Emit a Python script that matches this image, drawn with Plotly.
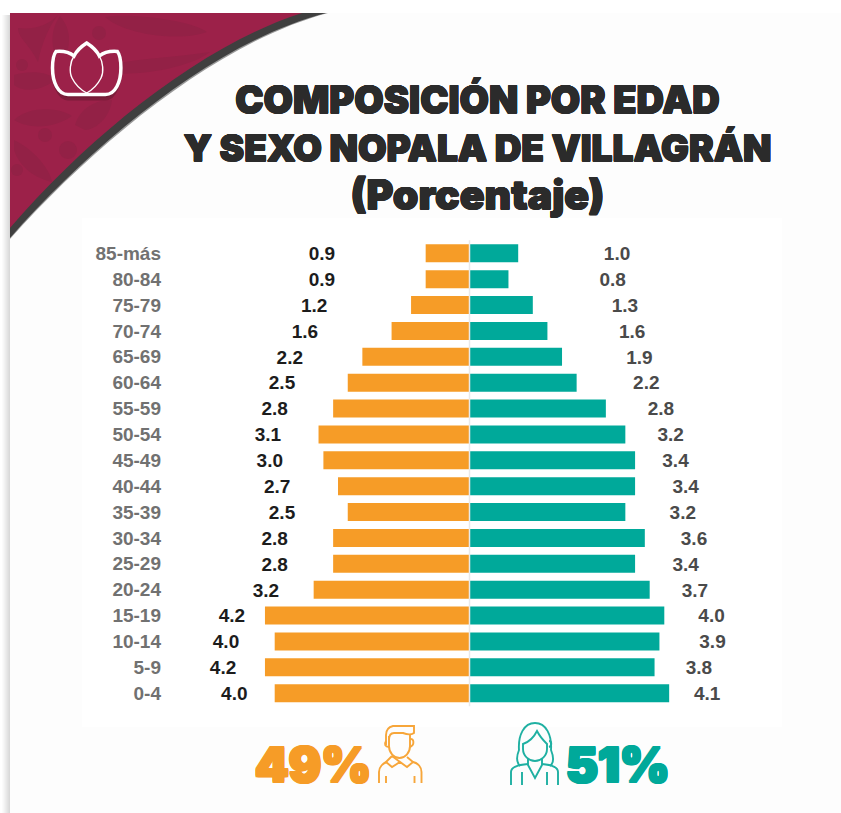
import re
import plotly.graph_objects as go

# ---------- data ----------
age_groups = ["85-más", "80-84", "75-79", "70-74", "65-69", "60-64", "55-59", "50-54", "45-49",
              "40-44", "35-39", "30-34", "25-29", "20-24", "15-19", "10-14", "5-9", "0-4"]
men = [0.9, 0.9, 1.2, 1.6, 2.2, 2.5, 2.8, 3.1, 3.0, 2.7, 2.5, 2.8, 2.8, 3.2, 4.2, 4.0, 4.2, 4.0]
women = [1.0, 0.8, 1.3, 1.6, 1.9, 2.2, 2.8, 3.2, 3.4, 3.4, 3.2, 3.6, 3.4, 3.7, 4.0, 3.9, 3.8, 4.1]
men_total = "49%"
women_total = "51%"
title_text = ("<span style=\"font-size:38px\">COMPOSICIÓN POR EDAD</span><br>Y SEXO NOPALA DE VILLAGRÁN<br>"
              "<span style=\"font-size:41px\">(Porcentaje)</span>")

# ---------- layout helpers ----------
W, H = 841, 813
ORANGE, TEAL, CRIMSON = "#f69c27", "#00a99a", "#9c2149"
# label distance from the end of each bar (hand placed in the original)
men_gap = [2.13, 2.13, 1.99, 1.78, 1.49, 1.35, 1.20, 1.04, 1.10, 1.25, 1.35, 1.20, 1.20, 0.98, 0.68, 1.00, 0.86, 0.83]
women_gap = [2.03, 2.14, 1.89, 1.74, 1.59, 1.43, 1.13, 0.93, 0.83, 1.04, 1.18, 1.01, 1.04, 0.93, 0.97, 1.09, 0.91, 0.78]
LABEL_DROP = 0.08  # labels sit slightly below the row centre
CENTER_PX, UNIT_PX = 469.5, 48.7
X0_PX, X1_PX = 170, 780
Y0_PX, Y1_PX = 240.36, 706.14


def fat(color, r):
    return ", ".join(f"{dx}px {dy}px 0 {color}" for dx, dy in
                     [(r, 0), (-r, 0), (0, r), (0, -r), (r, r), (-r, r), (r, -r), (-r, -r)])


def P(d):
    """pixel path -> paper path"""
    i = [0]
    def sub(m):
        v = float(m.group())
        r = v / W if i[0] % 2 == 0 else 1 - v / H
        i[0] += 1
        return f"{r:.5f}"
    return re.sub(r"\d+\.?\d*", sub, d)


def shape(d, fill=None, line=None, width=0, layer="below"):
    s = dict(type="path", path=P(d), xref="paper", yref="paper", layer=layer,
             line=dict(color=line or "rgba(0,0,0,0)", width=width))
    if fill:
        s["fillcolor"] = fill
    return s


def rect(x0, y0, x1, y1, fill):
    return dict(type="rect", xref="paper", yref="paper", layer="below", x0=x0 / W, x1=x1 / W,
                y0=1 - y0 / H, y1=1 - y1 / H, fillcolor=fill, line=dict(width=0))


shapes = []
# card and left shadow
shapes += [rect(10, 13, W, H, "#fdfdfd"), rect(82, 218, 782, 727, "#ffffff")]
for x, c in zip(range(2, 10), ["#fbfbfb", "#f7f7f7", "#f2f2f2", "#ededed", "#e8e8e8", "#e3e3e3", "#dedede", "#d9d9d9"]):
    shapes.append(rect(x, 15, x + 1, H, c))
# banner
shapes.append(shape("M10 13 L328 13 C 218 42 96 143 10 239 Z", fill="#9a9a9a"))
shapes.append(shape("M10 13 L326 13 C 215 42 95 142 10 238 Z", fill="#3f3f3f"))
shapes.append(shape("M10 13 L302 13 C 202 45 90 135 10 228 Z", fill=CRIMSON))
TEX = "#932146"
for d in [
    "M105 17 C 130 13 190 20 207 32 C 180 42 125 35 105 17 Z",
    "M58 15 C 50 25 42 42 38 62 C 30 45 18 38 18 28 C 35 30 48 25 58 15 Z",
    "M60 16 C 72 30 72 48 60 68 C 50 48 50 30 60 16 Z",
    "M88 70 C 130 58 170 58 210 52 C 190 68 130 80 88 70 Z",
    "M14 120 C 30 105 60 108 72 116 C 55 128 30 130 14 120 Z",
    "M75 125 C 80 108 95 100 112 100 C 110 118 95 130 85 130 Z",
    "M14 140 C 35 150 50 170 52 182 C 35 178 20 168 14 150 Z",
    "M14 75 C 30 70 50 72 55 80 C 40 92 22 92 14 85 Z",
]:
    shapes.append(shape(d, fill=TEX))
for cx, cy, r in [(99, 33, 7), (22, 65, 6), (45, 135, 7), (68, 150, 9), (17, 170, 6)]:
    shapes.append(dict(type="circle", xref="paper", yref="paper", layer="below", x0=(cx - r) / W, x1=(cx + r) / W,
                       y0=1 - (cy + r) / H, y1=1 - (cy - r) / H, fillcolor=TEX, line=dict(width=0)))
# lotus icon
lotus = ("M86.7 94.5 L68 94.5 C 58 94.5 52.5 82 52.5 68 C 52.5 60 54 54 56 51.5 C 62 51 69 52 74 56 "
         "C 77 50 82 46 86.7 43 C 91.4 46 96.4 50 99.4 56 C 104.4 52 111.4 51 117.4 51.5 "
         "C 119.4 54 120.9 60 120.9 68 C 120.9 82 115.4 94.5 105.4 94.5 Z")
shapes.append(shape(lotus.replace("94.5", "99"), fill="#6f1a35", line="#7c1d3b", width=3))
shapes.append(shape(lotus, fill=CRIMSON, line="#ffffff", width=3.5))
shapes.append(shape("M74 56 C 70 62 69 72 72 78 C 75 84 81 90 86.7 93 C 92 90 98 84 101 78 C 104 72 103 62 99.4 56",
                    line="#ffffff", width=1.4))
# man icon
for d in [
    "M386 745 L386 735 C386 730 389 727 393 726 L414 726 L414 733 C 411 735 408 735 403 733 L394 733 C 390 733 389 736 389 740",
    "M389 736 L389 746 C389 753 394 758 399.5 758 C405 758 410 753 410 746 L410 735",
    "M386 741 C 384 744 385 747 389 747 M410 739 C 414 738 415 745 410 747",
    "M392 756 L386 762 L392 767 L400 762 L407 767 L413 762 L407 757 M392 756 L400 762",
    "M379 783 L379 772 C379 767 383 763 387 762 M421.5 783 L421.5 772 C421.5 767 418 763 413 762",
    "M386 776 L386 783 M414.5 776 L414.5 783",
]:
    shapes.append(shape(d, line="#f7a63a", width=1.9))
# woman icon
for d in [
    "M520 766 C 516 762 517 755 519 750 C 518 735 524 723 535 723 C 546 723 552 735 551 750 C 553 755 555 762 550 766",
    "M523 744 C 529 742 534 737 537 731 C 540 737 544 741 547 744 L547 749 C 547 756 541 761 535 761 C 529 761 523 756 523 749 Z",
    "M528 759 L528 765 L535 778 L542 765 L542 759",
    "M511 785 L511 772 C511 768 515 765 528 764 M558 785 L558 772 C558 768 554 765 542 764",
    "M522 772 L522 785 M547 772 L547 785",
    "M549 741 C 552 741 552 746 549 747",
]:
    shapes.append(shape(d, line="#1fb0a2", width=1.9))
# centre axis line
shapes.append(dict(type="line", xref="x", yref="paper", layer="above", x0=0, x1=0,
                   y0=1 - Y1_PX / H, y1=1 - Y0_PX / H, line=dict(color="#e9e9e9", width=1.5)))

label_rows = [i + LABEL_DROP for i in range(len(age_groups))]

fig = go.Figure()
fig.add_bar(y=age_groups, x=[-v for v in men], orientation="h", marker=dict(color=ORANGE, line_width=0), showlegend=False)
fig.add_bar(y=age_groups, x=women, orientation="h", marker=dict(color=TEAL, line_width=0), showlegend=False)
fig.add_scatter(y=label_rows, x=[-(v + g) for v, g in zip(men, men_gap)], yaxis="y2", mode="text",
                text=[f"{v:.1f}" for v in men], textposition="middle center", showlegend=False,
                textfont=dict(family="Liberation Sans", size=19, weight=700, color="#1c1c1c"))
fig.add_scatter(y=label_rows, x=[v + g for v, g in zip(women, women_gap)], yaxis="y2", mode="text",
                text=[f"{v:.1f}" for v in women], textposition="middle center", showlegend=False,
                textfont=dict(family="Liberation Sans", size=19, weight=700, color="#4a4a4a"))

fig.update_layout(
    width=W, height=H, autosize=False, margin=dict(l=0, r=0, t=0, b=0),
    paper_bgcolor="#ffffff", plot_bgcolor="rgba(0,0,0,0)",
    barmode="overlay", bargap=0.305, shapes=shapes,
    title=dict(text=title_text, x=477.5 / W, xanchor="center", y=1 - 113 / H, yanchor="top", yref="paper",
               font=dict(family="Inter", size=37, weight=900, color="#2b2b2b", shadow=fat("#2b2b2b", 0.5))),
    xaxis=dict(domain=[X0_PX / W, X1_PX / W], visible=False, fixedrange=True,
               range=[(X0_PX - CENTER_PX) / UNIT_PX, (X1_PX - CENTER_PX) / UNIT_PX]),
    yaxis=dict(domain=[1 - Y1_PX / H, 1 - Y0_PX / H], type="category", categoryorder="array",
               categoryarray=age_groups, range=[17.5, -0.5], showgrid=False, zeroline=False,
               showline=False, ticks="", ticklabelstandoff=8, anchor="x", fixedrange=True,
               tickfont=dict(family="Liberation Sans", size=19, weight=700, color="#717171")),
    yaxis2=dict(domain=[1 - Y1_PX / H, 1 - Y0_PX / H], type="linear", overlaying="y", anchor="x",
                range=[17.5, -0.5], visible=False, fixedrange=True),
    annotations=[
        dict(text=men_total, xref="paper", yref="paper", x=312.5 / W, y=1 - 764 / H, showarrow=False,
             xanchor="center", yanchor="middle",
             font=dict(family="Inter", size=48, weight=900, color=ORANGE, shadow=fat(ORANGE, 1.2))),
        dict(text=women_total, xref="paper", yref="paper", x=618 / W, y=1 - 764 / H, showarrow=False,
             xanchor="center", yanchor="middle",
             font=dict(family="Inter", size=48, weight=900, color=TEAL, shadow=fat(TEAL, 1.2))),
    ],
)
fig.write_html("out.html", config=dict(displayModeBar=False),
               post_script="document.body.style.margin='0';document.body.style.overflow='hidden';")
